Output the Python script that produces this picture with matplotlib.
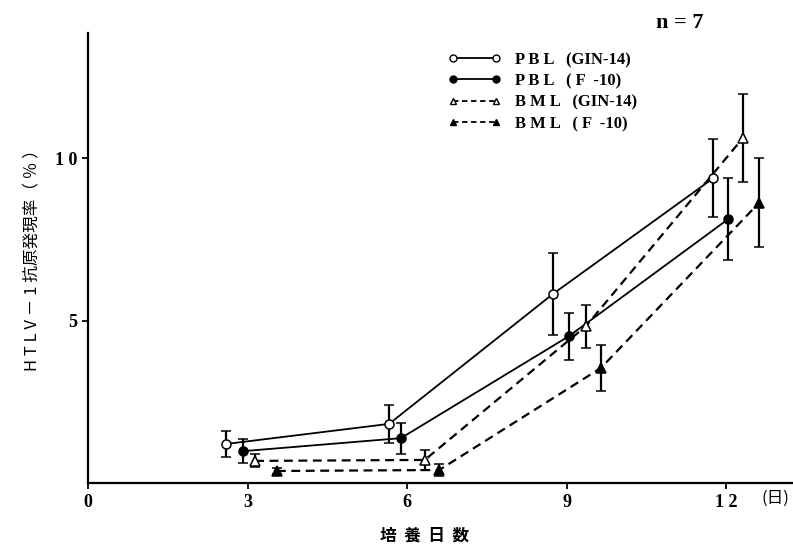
import matplotlib
matplotlib.use("Agg")
import matplotlib.pyplot as plt
from matplotlib.lines import Line2D

plt.rcParams['font.family'] = ['Liberation Serif', 'Noto Sans CJK JP', 'DejaVu Sans']

# culture day (points are staggered a bit around 3, 6, 9, 12)
pbl_gin_x = [2.59, 5.66, 8.74, 11.75]
pbl_gin_y = [1.20, 1.82, 5.82, 9.38]
pbl_gin_e = [0.40, 0.58, 1.25, 1.20]

pbl_f_x = [2.91, 5.88, 9.04, 12.03]
pbl_f_y = [0.98, 1.38, 4.52, 8.12]
pbl_f_e = [0.37, 0.48, 0.72, 1.27]

bml_gin_x = [3.14, 6.33, 9.36, 12.31]
bml_gin_y = [0.68, 0.71, 4.83, 10.62]
bml_gin_e = [0.20, 0.32, 0.66, 1.35]

bml_f_x = [3.55, 6.60, 9.64, 12.61]
bml_f_y = [0.37, 0.40, 3.54, 8.62]
bml_f_e = [0.10, 0.18, 0.70, 1.37]

labels = ["P B L   (GIN-14)", "P B L   ( F  -10)",
          "B M L   (GIN-14)", "B M L   ( F  -10)"]

fig = plt.figure(figsize=(7.93, 5.51), dpi=100)
ax = fig.add_axes([88/793, 68/551, 705/793, 450/551])

common = dict(color='black', ecolor='black', elinewidth=1.6, capsize=3.5,
              capthick=1.6, markersize=6.5, markeredgewidth=1.1)
ax.errorbar(pbl_gin_x, pbl_gin_y, yerr=pbl_gin_e, fmt='-o', lw=1.3,
            markerfacecolor='white', **common)
ax.errorbar(pbl_f_x, pbl_f_y, yerr=pbl_f_e, fmt='-o', lw=1.3,
            markerfacecolor='black', **common)
ax.errorbar(bml_gin_x, bml_gin_y, yerr=bml_gin_e, fmt='--^', lw=1.6,
            dashes=(4, 2.5), markerfacecolor='white', **common)
ax.errorbar(bml_f_x, bml_f_y, yerr=bml_f_e, fmt='--^', lw=1.6,
            dashes=(4, 2.5), markerfacecolor='black', **common)

ax.set_xlim(0, 13.25)
ax.set_ylim(0, 13.85)
ax.set_xticks([0, 3, 6, 9, 12])
ax.set_xticklabels(['0', '3', '6', '9', '1 2'])
ax.set_yticks([5, 10])
ax.set_yticklabels(['5', '1 0'])
ax.tick_params(direction='out', length=4, width=1.3, labelsize=13, pad=4)
for t in ax.get_xticklabels() + ax.get_yticklabels():
    t.set_fontweight('bold')
for s in ['top', 'right']:
    ax.spines[s].set_visible(False)
ax.spines['left'].set_linewidth(1.6)
ax.spines['bottom'].set_linewidth(1.6)

handles = [
    Line2D([], [], color='black', lw=1.3, marker='o', markersize=5,
           markerfacecolor='white'),
    Line2D([], [], color='black', lw=1.3, marker='o', markersize=5,
           markerfacecolor='black'),
    Line2D([], [], color='black', lw=1.3, ls=(0, (3, 2)), marker='^',
           markersize=5, markerfacecolor='white'),
    Line2D([], [], color='black', lw=1.3, ls=(0, (3, 2)), marker='^',
           markersize=5, markerfacecolor='black'),
]
ax.legend(handles, labels, loc='upper left', numpoints=2, frameon=False,
          bbox_to_anchor=(448/793, 1 - 52/551), bbox_transform=fig.transFigure,
          borderpad=0, borderaxespad=0, handlelength=3.2, handletextpad=0.8,
          labelspacing=0.32, prop={'size': 12, 'weight': 'bold'})

fig.text(680/793, 1 - 23/551, 'n = 7', fontsize=16, fontweight='bold',
         ha='center', va='center')
fig.text(775/793, 1 - 498/551, '(日)', fontsize=12, ha='center', va='center',
         family=['Noto Sans CJK JP', 'DejaVu Sans'])
fig.text(425/793, 1 - 536/551, '培  養  日  数', fontsize=12, ha='center',
         va='center', fontweight='bold', family=['Noto Sans CJK JP', 'DejaVu Sans'])
fig.text(32/793, 1 - 256/551, 'H T L V － 1 抗原発現率（ ％ ）', fontsize=12,
         rotation=90, ha='center', va='center',
         family=['Noto Sans CJK JP', 'DejaVu Sans'])

fig.savefig('out.png', dpi=100)
